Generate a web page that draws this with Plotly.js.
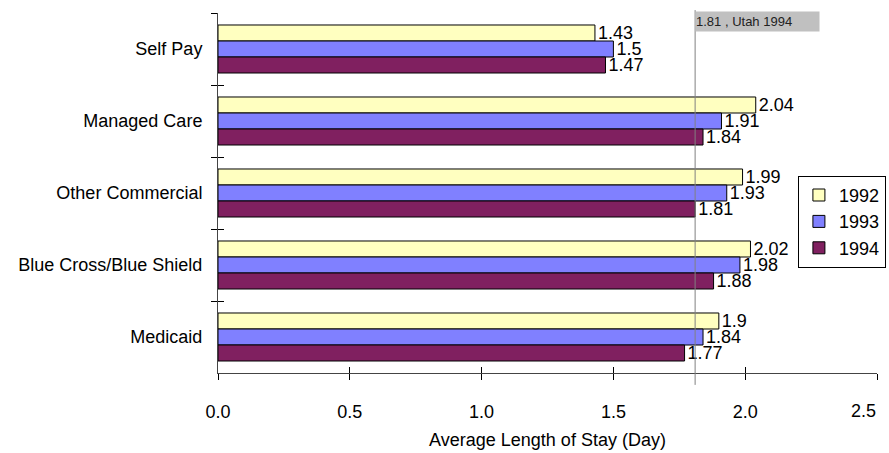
<!DOCTYPE html>
<html>
<head>
<meta charset="utf-8">
<script src="https://cdn.plot.ly/plotly-3.0.1.min.js"></script>
<style>html,body{margin:0;padding:0;background:#fff;}#chart{width:889px;height:453px;}</style>
</head>
<body>
<div id="chart"></div>
<script>
const categories = ["Self Pay", "Managed Care", "Other Commercial", "Blue Cross/Blue Shield", "Medicaid"];
const years = ["1992", "1993", "1994"];
const values1992 = [1.43, 2.04, 1.99, 2.02, 1.9];
const values1993 = [1.5, 1.91, 1.93, 1.98, 1.84];
const values1994 = [1.47, 1.84, 1.81, 1.88, 1.77];
const xTickVals = [0, 0.5, 1.0, 1.5, 2.0, 2.5];
const xTickText = ["0.0", "0.5", "1.0", "1.5", "2.0", "2.5"];
const refValue = 1.81;
const refLabel = "1.81 , Utah 1994";

const colors = ["#FFFFC0", "#8080FF", "#802060"];
const series = [values1992, values1993, values1994];
const font = "Liberation Sans, Arial, sans-serif";
const FS = 18;
const lastIdx = xTickVals.length - 1;

const traces = series.map((vals, i) => ({
  type: "bar",
  orientation: "h",
  name: years[i],
  y: categories,
  x: vals,
  marker: {color: colors[i], line: {color: "#000", width: 1}},
  text: vals.map(v => String(v)),
  textposition: "outside",
  constraintext: "none",
  textfont: {family: font, size: FS, color: "#000"},
  cliponaxis: false,
  hoverinfo: "skip"
}));

const layout = {
  width: 889, height: 453,
  margin: {l: 218, r: 12, t: 13, b: 80, pad: 0, autoexpand: false},
  paper_bgcolor: "#fff", plot_bgcolor: "#fff",
  font: {family: font, size: FS, color: "#000"},
  barmode: "group",
  bargap: 0.333, bargroupgap: 0,
  showlegend: true,
  legend: {
    x: 0.88, y: 0.42, xanchor: "left", yanchor: "middle",
    bordercolor: "#000", borderwidth: 1, bgcolor: "#fff",
    font: {family: font, size: FS, color: "#000"},
    tracegroupgap: 0, itemwidth: 30
  },
  xaxis: {
    range: [0, 2.5], tickvals: xTickVals,
    // the last label is drawn right-aligned to its tick (as in the reference) by an annotation below
    ticktext: xTickText.map((t, i) => i === lastIdx ? "" : t),
    automargin: false,
    showgrid: false, zeroline: false,
    showline: true, linecolor: "#444", linewidth: 1,
    ticks: "outside", ticklen: 6, tickcolor: "#000",
    ticklabelstandoff: 16,
    tickfont: {family: font, size: FS, color: "#000"},
    title: {text: "Average Length of Stay (Day)", font: {family: font, size: FS, color: "#000"}, standoff: 12},
    fixedrange: true
  },
  xaxis2: {
    overlaying: "x", anchor: "y", side: "bottom",
    range: [0, 2.5], tickvals: xTickVals,
    showticklabels: false, showgrid: false, zeroline: false, showline: false,
    ticks: "inside", ticklen: 6, tickcolor: "#000"
  },
  yaxis: {
    type: "category", categoryorder: "array", categoryarray: categories,
    autorange: "reversed", automargin: false,
    showgrid: false, zeroline: false,
    showline: true, linecolor: "#444", linewidth: 1,
    ticks: "outside", tickson: "boundaries", ticklen: 6, tickcolor: "#000",
    ticklabelstandoff: 11,
    tickfont: {family: font, size: FS, color: "#000"},
    fixedrange: true
  },
  yaxis2: {
    overlaying: "y", anchor: "x", side: "left",
    range: [categories.length - 0.5, -0.5],
    tickvals: categories.map((c, i) => i - 0.5).concat([categories.length - 0.5]),
    showticklabels: false, showgrid: false, zeroline: false, showline: false,
    ticks: "inside", ticklen: 6, tickcolor: "#000"
  },
  shapes: [{
    type: "line", xref: "x", yref: "paper",
    x0: refValue, x1: refValue, y0: 1.008, y1: -0.033,
    line: {color: "#808080", width: 1}
  }],
  annotations: [{
    xref: "x", yref: "paper", x: refValue, y: 1.006,
    xanchor: "left", yanchor: "top",
    text: refLabel, showarrow: false, align: "left",
    width: 123, height: 19, bgcolor: "#C0C0C0", borderpad: 0,
    font: {family: font, size: 13, color: "#222"}
  }, {
    xref: "x", yref: "paper", x: xTickVals[lastIdx], y: -0.1055,
    xanchor: "right", yanchor: "middle",
    text: xTickText[lastIdx], showarrow: false, borderpad: 0,
    font: {family: font, size: FS, color: "#000"}
  }]
};

// invisible helper traces that activate the overlay tick axes
const helperX = {type: "scatter", x: [0], y: [categories[0]], xaxis: "x2", yaxis: "y", mode: "markers", marker: {opacity: 0}, showlegend: false, hoverinfo: "skip"};
const helperY = {type: "scatter", x: [0], y: [0], xaxis: "x", yaxis: "y2", mode: "markers", marker: {opacity: 0}, showlegend: false, hoverinfo: "skip"};

Plotly.newPlot("chart", traces.concat([helperX, helperY]), layout, {displayModeBar: false, staticPlot: true});
</script>
</body>
</html>
